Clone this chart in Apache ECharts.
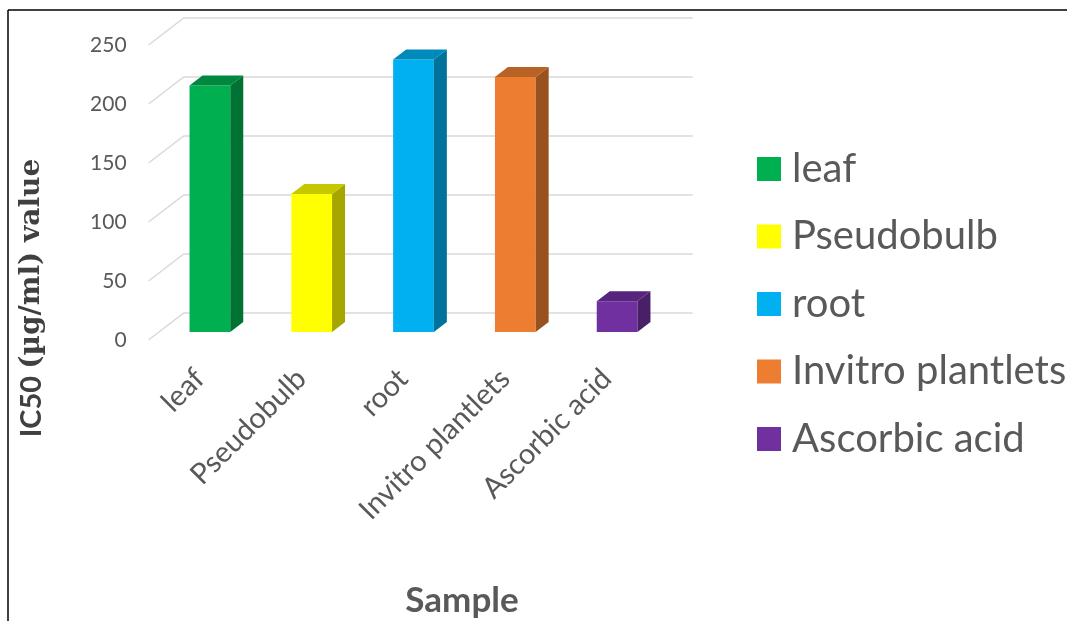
<!DOCTYPE html>
<html>
<head>
<meta charset="utf-8">
<script src="https://cdn.jsdelivr.net/npm/echarts@6/dist/echarts.min.js"></script>
<style>
  html, body { margin: 0; padding: 0; background: #fff; }
  #main { width: 1067px; height: 621px; }
</style>
</head>
<body>
<div id="main"></div>
<script>
// IC50 values
var categories = ['leaf', 'Pseudobulb', 'root', 'Invitro plantlets', 'Ascorbic acid'];
var values = [209, 117, 231, 216, 26];
var colors = ['#00B050', '#FFFF00', '#00B0F0', '#ED7D31', '#7030A0'];
var yTicks = [0, 50, 100, 150, 200, 250];

var chart = echarts.init(document.getElementById('main'));

// darken a hex colour for the top / side faces
function shade(hex, k) {
  var n = parseInt(hex.slice(1), 16);
  var r = Math.round(((n >> 16) & 255) * k);
  var g = Math.round(((n >> 8) & 255) * k);
  var b = Math.round((n & 255) * k);
  return 'rgb(' + r + ',' + g + ',' + b + ')';
}

// depth direction of the fake 3D box (px per depth step)
var DX = 1.3, DY = -1;

function renderWall(params, api) {
  var cs = params.coordSys;
  var y = api.coord([0, api.value(0)])[1];
  var front = [cs.x + DX * -8, y + DY * -8];
  var back = [cs.x + DX * 19, y + DY * 19];
  var end = [cs.x + cs.width + DX * 19, y + DY * 19];
  return {
    type: 'polyline',
    shape: { points: [front, back, end] },
    style: { stroke: '#D9D9D9', lineWidth: 1.5, fill: null }
  };
}

function renderBar(params, api) {
  var c = api.value(0);
  var base = api.coord([c, 0]);
  var top = api.coord([c, api.value(1)]);
  var w = api.size([1, 0])[0] * 0.4;
  var l = base[0] - w / 2, r = base[0] + w / 2;
  var dx = DX * 10, dy = DY * 10;
  var col = api.visual('color');
  return {
    type: 'group',
    children: [
      { type: 'polygon', shape: { points: [[l, top[1]], [r, top[1]], [r, base[1]], [l, base[1]]] },
        style: { fill: col } },
      { type: 'polygon', shape: { points: [[r, top[1]], [r + dx, top[1] + dy], [r + dx, base[1] + dy], [r, base[1]]] },
        style: { fill: shade(col, 0.65) } },
      { type: 'polygon', shape: { points: [[l, top[1]], [l + dx, top[1] + dy], [r + dx, top[1] + dy], [r, top[1]]] },
        style: { fill: shade(col, 0.78) } }
    ]
  };
}

var series = [{
  name: 'wall',
  type: 'custom',
  xAxisIndex: 0,
  yAxisIndex: 0,
  renderItem: renderWall,
  data: yTicks.map(function (v) { return [v]; }),
  encode: { y: 0 },
  silent: true,
  z: 1
}];

categories.forEach(function (name, i) {
  series.push({
    name: name,
    type: 'custom',
    xAxisIndex: 0,
    yAxisIndex: 0,
    itemStyle: { color: colors[i] },
    renderItem: renderBar,
    data: [[i, values[i]]],
    encode: { x: 0, y: 1 },
    z: 3
  });
});

var option = {
  animation: false,
  backgroundColor: '#fff',
  textStyle: { fontFamily: 'Lato' },
  legend: {
    data: categories,
    orient: 'vertical',
    left: 757,
    top: 149,
    padding: 0,
    icon: 'rect',
    itemWidth: 24,
    itemHeight: 24,
    itemGap: 27.5,
    textStyle: { fontSize: 40, lineHeight: 40, color: '#595959', fontFamily: 'Lato', padding: [0, 0, 0, 6] }
  },
  grid: [
    // front faces of the bars
    { left: 159, width: 509, top: 37, height: 295 },
    // front edge of the floor, carries the value and category labels
    { left: 148.6, width: 509, top: 45, height: 295 }
  ],
  xAxis: [
    { type: 'category', gridIndex: 0, data: categories, show: false },
    {
      type: 'category', gridIndex: 1, data: categories,
      axisLine: { show: false }, axisTick: { show: false },
      axisLabel: { rotate: 45, fontSize: 29, color: '#595959', margin: 34, interval: 0 }
    }
  ],
  yAxis: [
    { type: 'value', gridIndex: 0, min: 0, max: 250, interval: 50, show: false },
    {
      type: 'value', gridIndex: 1, min: 0, max: 250, interval: 50,
      axisLine: { show: false }, axisTick: { show: false }, splitLine: { show: false },
      axisLabel: { fontSize: 21, color: '#595959', margin: 22 }
    }
  ],
  graphic: [
    { type: 'line', shape: { x1: 8, y1: 10, x2: 1067, y2: 10 }, style: { stroke: '#000', lineWidth: 1.5 } },
    { type: 'line', shape: { x1: 8, y1: 10, x2: 8, y2: 621 }, style: { stroke: '#000', lineWidth: 1.5 } },
    {
      type: 'text', x: 32, y: 298, rotation: Math.PI / 2,
      style: {
        text: '{a|IC50 }{b|(µg/ml) value}',
        align: 'center', verticalAlign: 'middle',
        rich: {
          a: { fontFamily: 'Lato', fontWeight: 'bold', fontSize: 29, fill: '#404040' },
          b: { fontFamily: 'DejaVu Serif', fontWeight: 'bold', fontSize: 28, fill: '#404040' }
        }
      }
    },
    {
      type: 'text', x: 462, y: 601,
      style: {
        text: 'Sample', align: 'center', verticalAlign: 'middle',
        fontFamily: 'Lato', fontWeight: 'bold', fontSize: 35, fill: '#595959'
      }
    }
  ],
  series: series
};

chart.setOption(option);
</script>
</body>
</html>
